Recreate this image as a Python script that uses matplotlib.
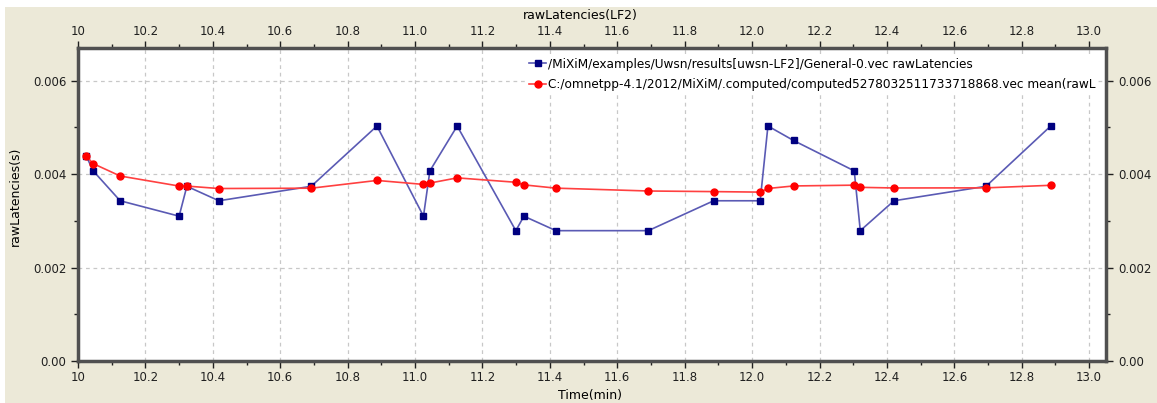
import numpy as np
import matplotlib.pyplot as plt
from matplotlib.patches import Rectangle
from matplotlib.ticker import MultipleLocator, FixedLocator

plt.rcParams['font.family'] = ['DejaVu Sans']

# time stamps (min) of each sample
time_min = [10.025, 10.045, 10.125, 10.300, 10.323, 10.418, 10.692, 10.887,
            11.025, 11.044, 11.125, 11.299, 11.323, 11.418, 11.692, 11.886,
            12.024, 12.047, 12.123, 12.303, 12.321, 12.421, 12.694, 12.886]

# raw latency samples (s)
raw_lat = [0.00438, 0.00407, 0.00343, 0.00310, 0.00374, 0.00343, 0.00374, 0.00503,
           0.00310, 0.00407, 0.00503, 0.00279, 0.00310, 0.00279, 0.00279, 0.00343,
           0.00343, 0.00503, 0.00472, 0.00407, 0.00279, 0.00343, 0.00374, 0.00503]

# mean latency vector (s)
mean_lat = [0.00438, 0.004225, 0.00396, 0.003745, 0.003744, 0.003692, 0.003699, 0.003865,
            0.003780, 0.003809, 0.003920, 0.003826, 0.003770, 0.003700, 0.003639, 0.003626,
            0.003615, 0.003693, 0.003747, 0.003764, 0.003717, 0.003704, 0.003706, 0.003761]

raw_label = "/MiXiM/examples/Uwsn/results[uwsn-LF2]/General-0.vec rawLatencies"
mean_label = "C:/omnetpp-4.1/2012/MiXiM/.computed/computed5278032511733718868.vec mean(rawL"

x_ticks = [10.0, 10.2, 10.4, 10.6, 10.8, 11.0, 11.2, 11.4, 11.6, 11.8,
           12.0, 12.2, 12.4, 12.6, 12.8, 13.0]
x_tick_labels = ["10", "10.2", "10.4", "10.6", "10.8", "11.0", "11.2", "11.4", "11.6",
                 "11.8", "12.0", "12.2", "12.4", "12.6", "12.8", "13.0"]
y_ticks = [0.0, 0.002, 0.004, 0.006]
y_tick_labels = ["0.00", "0.002", "0.004", "0.006"]

W, H = 1157, 403
fig = plt.figure(figsize=(W / 100, H / 100), dpi=100, facecolor='white')
# beige window panel behind everything
panel = Rectangle((5 / W, 0), 1 - 5 / W, 1 - 7 / H, transform=fig.transFigure,
                  facecolor='#ECE9D8', edgecolor='none', zorder=-10)
fig.add_artist(panel)

ax = fig.add_axes([78 / W, 1 - 361 / H, (1106 - 78) / W, (361 - 48) / H])
ax.set_facecolor('white')
ax.set_xlim(10.0, 13.05)
ax.set_ylim(0, 0.0067)

ax.plot(time_min, raw_lat, color='#5a5ab4', lw=1.2, marker='s', ms=4.6,
        mfc='#000080', mec='#000080', label=raw_label, zorder=3)
ax.plot(time_min, mean_lat, color='#ff4040', lw=1.2, marker='o', ms=5,
        mfc='#ff0000', mec='#ff0000', label=mean_label, zorder=4)

ax.xaxis.set_major_locator(FixedLocator(x_ticks))
ax.set_xticklabels(x_tick_labels)
ax.xaxis.set_minor_locator(MultipleLocator(0.1))
ax.yaxis.set_major_locator(FixedLocator(y_ticks))
ax.set_yticklabels(y_tick_labels)
ax.yaxis.set_minor_locator(MultipleLocator(0.001))

ax.tick_params(which='both', direction='out', top=True, right=True,
               labeltop=True, labelright=True, labelsize=8.5, colors='#202020')
ax.tick_params(which='major', length=5, width=1)
ax.tick_params(which='minor', length=3, width=1)
ax.tick_params(axis='x', pad=2)

ax.grid(True, which='major', ls=(0, (3, 3)), color='#c8c8c8', lw=0.9, zorder=1)
for s in ax.spines.values():
    s.set_linewidth(2.5)
    s.set_color('#505050')

leg = ax.legend(loc='upper left', bbox_to_anchor=(0.437, 0.975), frameon=True,
                fancybox=False, framealpha=1, edgecolor='white', fontsize=8.75,
                handlelength=1.4, handletextpad=0.15, labelspacing=0.6,
                borderpad=0.15, borderaxespad=0)
leg.set_zorder(5)

fig.text(580 / W, 1 - 15 / H, "rawLatencies(LF2)", ha='center', va='center', fontsize=9)
fig.text(590 / W, 1 - 395 / H, "Time(min)", ha='center', va='center', fontsize=9)
fig.text(15 / W, 1 - 196 / H, "rawLatencies(s)", ha='center', va='center',
         rotation=90, fontsize=9)

fig.savefig('out.png', dpi=100, facecolor=fig.get_facecolor())
